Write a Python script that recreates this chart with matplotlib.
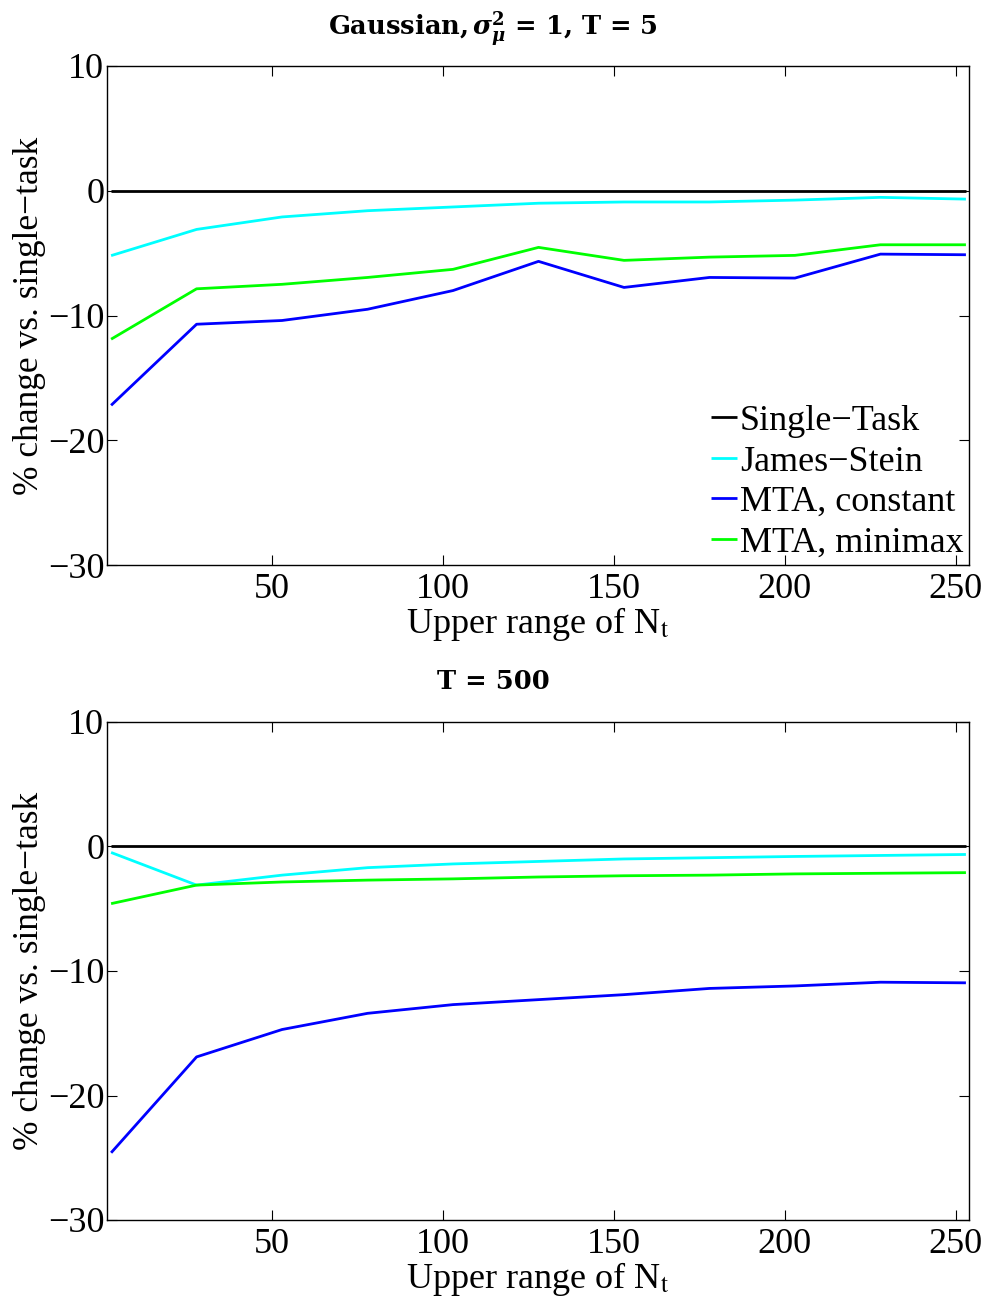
import matplotlib
matplotlib.use("Agg")
import matplotlib.pyplot as plt

x_vals = [3, 28, 53, 78, 103, 128, 153, 178, 203, 228, 253]

# Top panel (T = 5)
top_single = [0, 0, 0, 0, 0, 0, 0, 0, 0, 0, 0]
top_js = [-5.2, -3.1, -2.1, -1.6, -1.3, -1.0, -0.9, -0.9, -0.75, -0.53, -0.67]
top_mta_const = [-17.2, -10.7, -10.4, -9.5, -8.0, -5.66, -7.75, -6.95, -7.0, -5.08, -5.13]
top_mta_minimax = [-11.9, -7.86, -7.5, -6.95, -6.3, -4.54, -5.58, -5.32, -5.18, -4.33, -4.33]

# Bottom panel (T = 500)
bot_single = [0, 0, 0, 0, 0, 0, 0, 0, 0, 0, 0]
bot_js = [-0.48, -3.1, -2.3, -1.7, -1.4, -1.2, -1.0, -0.9, -0.8, -0.72, -0.64]
bot_mta_const = [-24.6, -16.9, -14.7, -13.4, -12.7, -12.3, -11.9, -11.4, -11.2, -10.9, -10.95]
bot_mta_minimax = [-4.59, -3.1, -2.85, -2.7, -2.6, -2.45, -2.35, -2.3, -2.2, -2.15, -2.1]

series_labels = ["Single\u2212Task", "James\u2212Stein", "MTA, constant", "MTA, minimax"]
series_colors = ["#000000", "#00FFFF", "#0000FF", "#00FF00"]
x_ticks = [50, 100, 150, 200, 250]
y_ticks = [-30, -20, -10, 0, 10]

plt.rcParams['font.family'] = ['Liberation Serif', 'DejaVu Serif']
plt.rcParams['axes.unicode_minus'] = True

fig = plt.figure(figsize=(9.87, 13.03), dpi=100)
W, H = 987.0, 1303.0
ax_top = fig.add_axes([107 / W, 1 - 565 / H, 862 / W, 499 / H])
ax_bot = fig.add_axes([107 / W, 1 - 1220 / H, 862 / W, 498 / H])

panels = [
    (ax_top, [top_single, top_js, top_mta_const, top_mta_minimax],
     r'Gaussian,$\,\boldsymbol{\sigma}_{\boldsymbol{\mu}}^{\mathbf{2}}$ = 1, T = 5', 22),
    (ax_bot, [bot_single, bot_js, bot_mta_const, bot_mta_minimax],
     r'T = 500', 24),
]

for ax, series, title, pad in panels:
    for vals, lab, col in zip(series, series_labels, series_colors):
        ax.plot(x_vals, vals, color=col, lw=2.0, label=lab, solid_capstyle='butt')
    ax.set_xlim(1.8, 253.9)
    ax.set_ylim(-30, 10)
    ax.set_xticks(x_ticks)
    ax.set_yticks(y_ticks)
    ax.set_yticklabels([str(v).replace('-', '\u2212') for v in y_ticks])
    ax.tick_params(direction='in', top=True, right=True, length=7, width=0.8,
                   labelsize=26)
    ax.tick_params(axis='x', pad=6)
    ax.tick_params(axis='y', pad=2)
    for sp in ax.spines.values():
        sp.set_linewidth(1.0)
    ax.set_xlabel(r'Upper range of N$_{\mathrm{t}}$', fontsize=26, labelpad=-1,
                  math_fontfamily='stix')
    ax.set_ylabel('% change vs. single\u2212task', fontsize=25.5, labelpad=1)
    ax.set_title(title, fontsize=18.5, pad=pad, fontweight='bold', x=0.448,
                 family=['DejaVu Serif'], math_fontfamily='dejavuserif')

leg = ax_top.legend(loc='lower right', frameon=False, fontsize=26,
                    handlelength=0.72, handletextpad=0.08, labelspacing=0.2,
                    borderaxespad=0.0, borderpad=0.15)

fig.savefig('out.png', dpi=100)
